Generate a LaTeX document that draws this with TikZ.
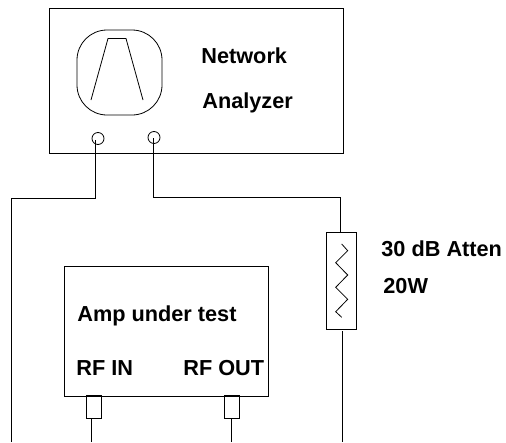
\documentclass[tikz,border=0pt]{standalone}
\usepackage{fontspec}
\setmainfont{Liberation Sans}
\tikzset{
    box/.style={draw, rectangle, minimum width=#1, inner sep=0pt, outer sep=0pt},
    port/.style={draw, circle, minimum size=12pt, inner sep=0pt},
    lbl/.style={anchor=base west, inner sep=0pt, font=\fontsize{21.7}{24}\selectfont\bfseries}
}
\begin{document}
\begin{tikzpicture}[x=1pt,y=-1pt,line width=0.8pt]
    \useasboundingbox (0,0) rectangle (506,442);
    % network analyzer
    \node[box=294pt, minimum height=145pt] (analyzer) at (196,80.5) {};
    \node[box=85pt, minimum height=85pt, rounded corners=30pt] (screen) at (119.5,72.5) {};
    \draw (91,100) -- (108,38.5) -- (126,38.5) -- (143,100);
    \node[port] (portin) at (98,138.5) {};
    \node[port] (portout) at (154,137.5) {};
    \node[lbl] (netlabel) at (201,63) {Network};
    \node[lbl] (analabel) at (202,108) {Analyzer};
    % amplifier
    \node[box=204pt, minimum height=129.5pt] (amp) at (166,331.25) {};
    \node[box=15pt, minimum height=23pt] (rfin) at (93.5,406.5) {};
    \node[box=15pt, minimum height=23pt] (rfout) at (231.5,406.5) {};
    \node[lbl] (amplabel) at (77,321) {Amp under test};
    \node[lbl] (inlabel) at (76,375) {RF IN};
    \node[lbl] (outlabel) at (183,375) {RF OUT};
    % attenuator
    \node[box=30pt, minimum height=97pt] (atten) at (341,280.5) {};
    \draw (341.7,244) -- (347.7,250.7) -- (335.7,262.7) -- (347.7,275) -- (335.7,287.3) -- (347.7,299.3) -- (335.7,311.7) -- (341.7,317.3);
    \node[lbl] (attlabel) at (381,256) {30 dB Atten};
    \node[lbl] (wattlabel) at (383,293) {20W};
    % cables
    \coordinate (endleft) at (11,442);
    \coordinate (endin) at (91,442);
    \coordinate (endout) at (231,442);
    \coordinate (endatt) at (342,442);
    \coordinate (tapin) at (95.5,140);
    \coordinate (tapout) at (153,138);
    \coordinate (attop) at (340,232);
    \draw (tapin) -- (95.5,198) -- (11,198) -- (endleft);
    \draw (tapout) -- (153,197.5) -- (340,197.5) -- (attop);
    \draw (342,331) -- (endatt);
    \draw (91,418) -- (endin);
    \draw (231,418) -- (endout);
\end{tikzpicture}
\end{document}
